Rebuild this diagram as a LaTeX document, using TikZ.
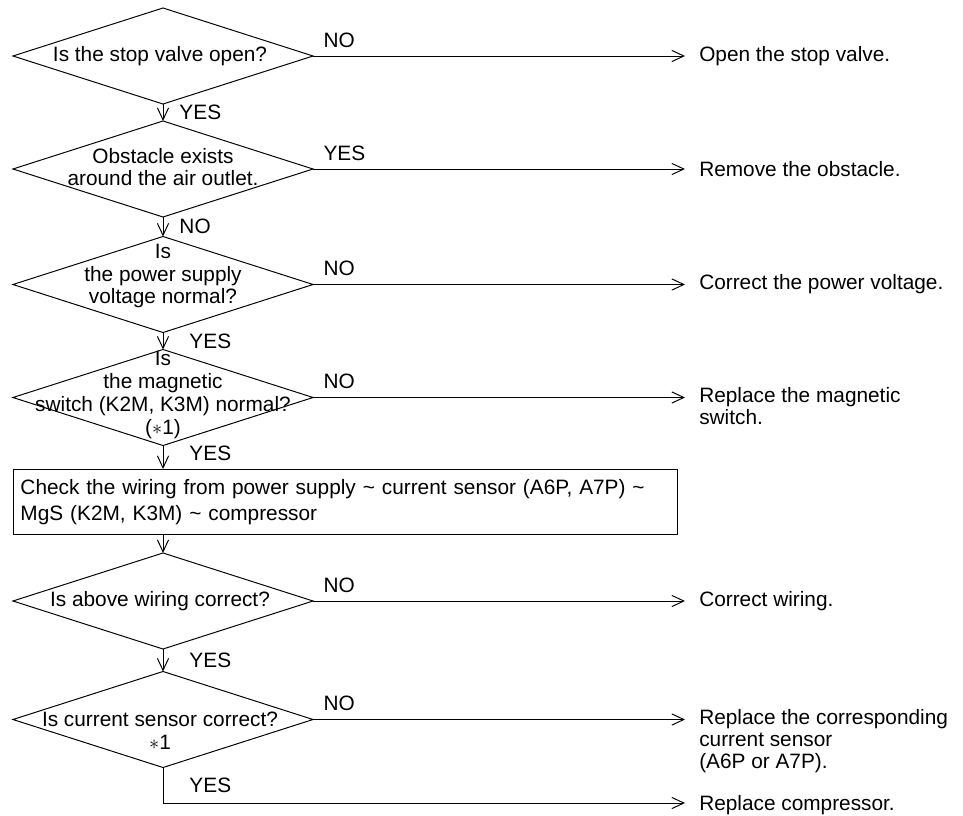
\documentclass[tikz,border=0pt]{standalone}
\usepackage{fontspec}
\setmainfont{Liberation Sans}
\usetikzlibrary{shapes.geometric, arrows.meta, positioning}

\newcommand{\qfont}{\fontsize{14.8}{16.2}\selectfont}

\tikzset{
  decision/.style={diamond, draw, line width=0.7pt, minimum width=7.5cm, minimum height=2.4cm, inner sep=0pt, outer sep=0pt},
  qtext/.style={align=center, inner sep=0pt, font=\qfont},
  ans/.style={inner sep=0pt, font=\qfont},
  result/.style={anchor=west, align=left, inner xsep=0.35cm, inner ysep=0pt, font=\fontsize{14.8}{15.6}\selectfont},
  flow/.style={line width=0.7pt, -{Straight Barb[length=3mm, width=2.8mm]}},
  wirebox/.style={draw, line width=0.7pt, anchor=north west, minimum width=16.6cm, minimum height=1.625cm, text width=16.25cm, inner xsep=0.175cm, align=left, font=\fontsize{14.8}{18.4}\selectfont}
}

\begin{document}
\begin{tikzpicture}[x=0.025cm, y=-0.025cm]
  \useasboundingbox (0,0) rectangle (963,816);

  % ----- Decisions -----
  \node[decision] (valve) at (163,56) {};
  \node[qtext] (valvet) at (160,56) {Is the stop valve open?};
  \node[decision] (obst) at (163,169) {};
  \node[qtext] (obstt) at (163,167) {Obstacle exists\\around the air outlet.};
  \node[decision] (power) at (163,284.5) {};
  \node[qtext] (powert) at (163,276) {Is\\the power supply\\voltage normal?};
  \node[decision] (mag) at (163,397.5) {};
  \node[qtext] (magt) at (163,395) {Is\\the magnetic\\switch (K2M, K3M) normal?\\($\ast$1)};

  \node[wirebox] (wiring) at (13,469) {Check the wiring from power supply \textasciitilde{} current sensor (A6P, A7P) \textasciitilde\\MgS (K2M, K3M) \textasciitilde{} compressor};

  \node[decision] (wirok) at (163,601) {};
  \node[qtext] (wirokt) at (160,601) {Is above wiring correct?};
  \node[decision] (sensor) at (163,719.5) {};
  \node[qtext] (sensort) at (160,731) {Is current sensor correct?\\$\ast$1};

  % ----- Actions -----
  \node[result] (openv) at (685,56) {Open the stop valve.};
  \node[result] (remove) at (685,169) {Remove the obstacle.};
  \node[result] (voltage) at (685,284.5) {Correct the power voltage.};
  \node[result] (magsw) at (685,406) {Replace the magnetic\\switch.};
  \node[result] (rewire) at (685,601) {Correct wiring.};
  \node[result] (sensorrep) at (685,741) {Replace the corresponding\\current sensor\\(A6P or A7P).};
  \node[result] (comp) at (685,805) {Replace compressor.};
  \coordinate (bend) at (163,803);

  % ----- Main line -----
  \draw[flow] (valve.south) -- node[ans, right, xshift=0.4cm] (yes1) {YES} (obst.north);
  \draw[flow] (obst.south) -- node[ans, right, xshift=0.4cm] (no2) {NO} (power.north);
  \draw[flow] (power.south) -- node[ans, right, xshift=0.65cm] (yes3) {YES} (mag.north);
  \draw[flow] (mag.south) -- node[ans, right, xshift=0.65cm, yshift=0.1cm] (yes4) {YES} (mag.south |- wiring.north);
  \draw[flow] (wiring.south -| wirok.north) -- (wirok.north);
  \draw[flow] (wirok.south) -- node[ans, right, xshift=0.65cm] (yes5) {YES} (sensor.north);
  \draw[flow] (sensor.south) -- node[ans, right, xshift=0.65cm] (yes6) {YES} (bend) -- (bend -| comp.west);

  % ----- Side branches -----
  \draw[flow] (valve.east) -- node[ans, pos=0, anchor=south west, xshift=0.25cm, yshift=0.2cm] (no1) {NO} (openv.west);
  \draw[flow] (obst.east) -- node[ans, pos=0, anchor=south west, xshift=0.25cm, yshift=0.2cm] (yes2) {YES} (remove.west);
  \draw[flow] (power.east) -- node[ans, pos=0, anchor=south west, xshift=0.25cm, yshift=0.2cm] (no3) {NO} (voltage.west);
  \draw[flow] (mag.east) -- node[ans, pos=0, anchor=south west, xshift=0.25cm, yshift=0.2cm] (no4) {NO} (mag.east -| magsw.west);
  \draw[flow] (wirok.east) -- node[ans, pos=0, anchor=south west, xshift=0.25cm, yshift=0.2cm] (no5) {NO} (rewire.west);
  \draw[flow] (sensor.east) -- node[ans, pos=0, anchor=south west, xshift=0.25cm, yshift=0.2cm] (no6) {NO} (sensor.east -| sensorrep.west);
\end{tikzpicture}
\end{document}
